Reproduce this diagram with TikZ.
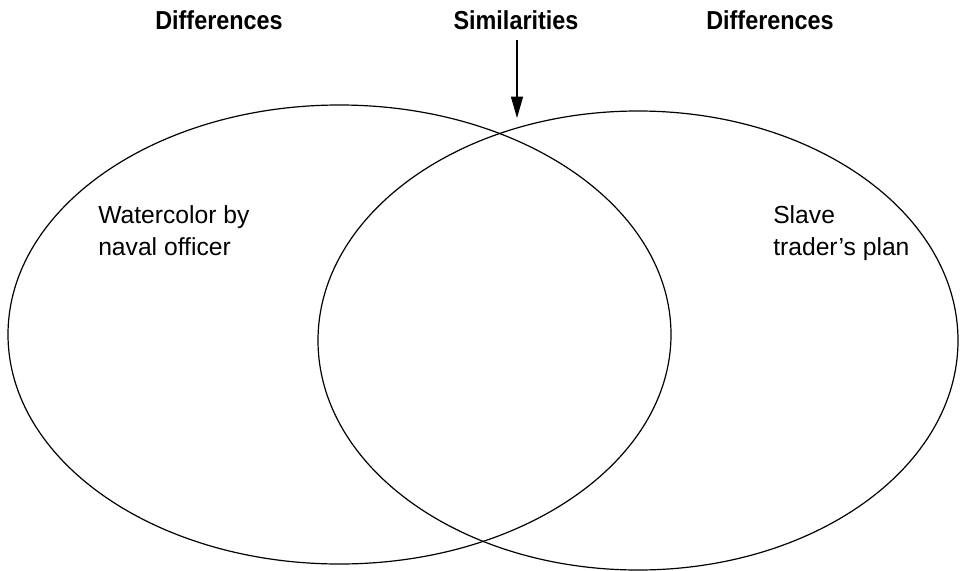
\documentclass[tikz,border=0pt]{standalone}
\usepackage{fontspec}
\setmainfont{Liberation Sans}
\newfontfamily\headfont[FakeStretch=0.9]{Liberation Sans}
\usepackage{tikz}
\usetikzlibrary{arrows.meta,positioning,shapes.geometric}
\tikzset{
  setcircle/.style={draw=black, line width=0.9pt, ellipse, inner sep=0pt},
  heading/.style={font=\headfont\bfseries\fontsize{19.5}{23}\selectfont, inner sep=0pt, anchor=base},
  setlabel/.style={font=\fontsize{18.5}{24}\selectfont, align=left, inner sep=0pt, anchor=north west},
  pointer/.style={-{Triangle[length=16pt, width=9pt]}, line width=0.9pt}
}
\begin{document}
\begin{tikzpicture}[x=0.75pt, y=-0.75pt]
  \useasboundingbox (0,0) rectangle (960,571);
  \node[setcircle, minimum width=663*0.75pt, minimum height=459*0.75pt] (naval) at (339.5,334.5) {};
  \node[setcircle, minimum width=640*0.75pt, minimum height=459*0.75pt] (trader) at (638,340.5) {};
  \node[heading] (diffleft) at (219,29) {Differences};
  \node[heading] (sim) at (516,29) {Similarities};
  \node[heading] (diffright) at (770,29) {Differences};
  \node[setlabel] (navaltext) at (98,205) {Watercolor by\\naval officer};
  \node[setlabel] (tradertext) at (773,205) {Slave\\trader’s plan};
  \coordinate (overlap) at (517,118);
  \draw[pointer, shorten <=7.5pt] (sim.south -| overlap) -- (overlap);
\end{tikzpicture}
\end{document}
